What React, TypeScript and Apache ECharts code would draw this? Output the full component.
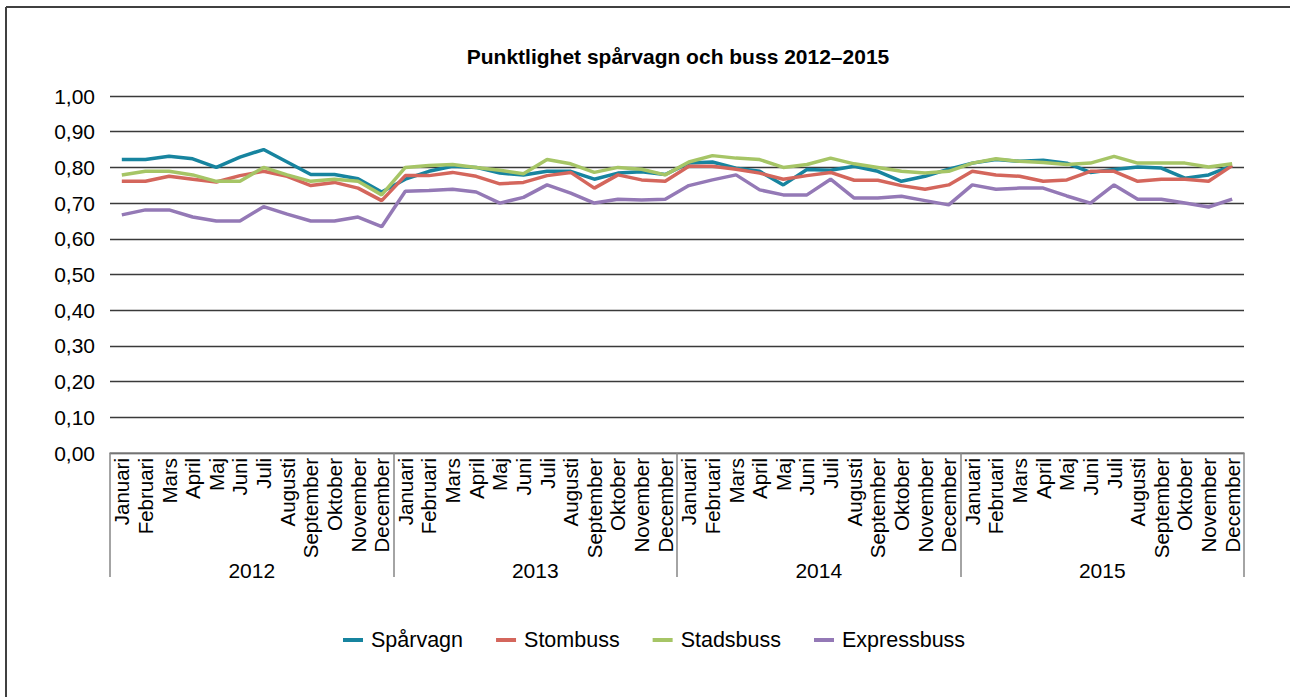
import React, { useEffect, useRef } from "react";
import * as echarts from "echarts";

const months = [
  "Januari", "Februari", "Mars", "April", "Maj", "Juni",
  "Juli", "Augusti", "September", "Oktober", "November", "December",
];
const years = ["2012", "2013", "2014", "2015"];
const yTicks = [0, 0.1, 0.2, 0.3, 0.4, 0.5, 0.6, 0.7, 0.8, 0.9, 1.0];

const seriesNames = ["Spårvagn", "Stombuss", "Stadsbuss", "Expressbuss"];

const sparvagn = [
  0.822, 0.822, 0.831, 0.824, 0.80, 0.829, 0.85, 0.815, 0.78, 0.78, 0.768, 0.731,
  0.767, 0.789, 0.803, 0.80, 0.784, 0.779, 0.789, 0.789, 0.767, 0.784, 0.788, 0.78,
  0.812, 0.815, 0.798, 0.789, 0.751, 0.794, 0.792, 0.803, 0.789, 0.761, 0.775, 0.795,
  0.812, 0.822, 0.817, 0.82, 0.812, 0.786, 0.794, 0.801, 0.798, 0.77, 0.779, 0.805,
];
const stombuss = [
  0.761, 0.761, 0.775, 0.767, 0.759, 0.777, 0.789, 0.775, 0.749, 0.758, 0.742, 0.707,
  0.777, 0.777, 0.786, 0.775, 0.754, 0.758, 0.777, 0.786, 0.742, 0.779, 0.765, 0.761,
  0.803, 0.803, 0.795, 0.784, 0.767, 0.777, 0.786, 0.764, 0.764, 0.749, 0.739, 0.751,
  0.789, 0.779, 0.775, 0.761, 0.765, 0.789, 0.789, 0.761, 0.767, 0.767, 0.761, 0.805,
];
const stadsbuss = [
  0.779, 0.789, 0.789, 0.779, 0.761, 0.761, 0.80, 0.779, 0.761, 0.767, 0.761, 0.723,
  0.80, 0.805, 0.808, 0.80, 0.792, 0.782, 0.822, 0.81, 0.786, 0.80, 0.795, 0.779,
  0.815, 0.833, 0.826, 0.822, 0.80, 0.808, 0.826, 0.81, 0.80, 0.789, 0.784, 0.789,
  0.812, 0.824, 0.817, 0.814, 0.808, 0.812, 0.831, 0.812, 0.812, 0.812, 0.801, 0.81,
];
const expressbuss = [
  0.667, 0.681, 0.681, 0.661, 0.65, 0.65, 0.69, 0.669, 0.65, 0.65, 0.661, 0.634,
  0.733, 0.735, 0.739, 0.731, 0.70, 0.716, 0.751, 0.728, 0.70, 0.711, 0.709, 0.711,
  0.749, 0.765, 0.779, 0.737, 0.723, 0.723, 0.767, 0.714, 0.714, 0.719, 0.707, 0.695,
  0.751, 0.739, 0.742, 0.742, 0.72, 0.70, 0.751, 0.711, 0.711, 0.70, 0.689, 0.711,
];

const seriesValues = [sparvagn, stombuss, stadsbuss, expressbuss];
const colors = ["#17849f", "#d4665c", "#a6c566", "#9479b6"];

const FONT = "'Liberation Sans', Arial, sans-serif";

export default function App() {
  const ref = useRef<HTMLDivElement>(null);

  useEffect(() => {
    if (!ref.current) return;
    const chart = echarts.init(ref.current, undefined, { renderer: "svg" });
    const monthCats: string[] = [];
    years.forEach(() => months.forEach((m) => monthCats.push(m)));

    chart.setOption({
      animation: false,
      color: colors,
      textStyle: { fontFamily: FONT },
      title: {
        text: "Punktlighet spårvagn och buss 2012–2015",
        left: 678,
        top: 46,
        textAlign: "center",
        padding: 0,
        textStyle: { fontFamily: FONT, fontSize: 21, fontWeight: "bold", color: "#000" },
      },
      legend: {
        data: seriesNames,
        left: 343,
        top: 629,
        padding: 0,
        icon: "rect",
        itemWidth: 20,
        itemHeight: 4,
        itemGap: 33,
        textStyle: { fontFamily: FONT, fontSize: 21.5, color: "#000", padding: [0, 0, 0, 3] },
      },
      grid: { left: 110, right: 46, top: 96, bottom: 244, containLabel: false },
      xAxis: [
        {
          type: "category",
          data: monthCats,
          boundaryGap: true,
          axisLine: { show: true, lineStyle: { color: "#868686", width: 1.5 } },
          axisTick: { show: false },
          axisLabel: {
            interval: 0,
            rotate: 90,
            margin: 5,
            fontSize: 20.5,
            color: "#000",
            fontFamily: FONT,
          },
          splitLine: { show: false },
        },
        {
          type: "category",
          data: years,
          position: "bottom",
          boundaryGap: true,
          axisLine: { show: false },
          axisTick: {
            show: true,
            interval: 0,
            length: 124,
            lineStyle: { color: "#868686", width: 1.5 },
          },
          axisLabel: { interval: 0, margin: 107, fontSize: 21, color: "#000", fontFamily: FONT },
          splitLine: { show: false },
        },
      ],
      yAxis: {
        type: "value",
        min: yTicks[0],
        max: yTicks[yTicks.length - 1],
        interval: 0.1,
        axisLine: { show: false },
        axisTick: { show: false },
        axisLabel: {
          margin: 15,
          fontSize: 21,
          color: "#000",
          fontFamily: FONT,
          formatter: (v: number) => v.toFixed(2).replace(".", ","),
        },
        splitLine: { show: true, lineStyle: { color: "#3a3a3a", width: 1.3 } },
      },
      series: seriesNames.map((name, i) => ({
        name,
        type: "line",
        xAxisIndex: 0,
        data: seriesValues[i],
        symbol: "none",
        lineStyle: { width: 3.5, color: colors[i] },
        itemStyle: { color: colors[i] },
      })),
      graphic: [
        {
          type: "line",
          shape: { x1: 6, y1: 7, x2: 1290, y2: 7 },
          style: { stroke: "#404040", lineWidth: 2 },
        },
        {
          type: "line",
          shape: { x1: 6, y1: 7, x2: 6, y2: 697 },
          style: { stroke: "#404040", lineWidth: 2 },
        },
      ],
    });
    return () => chart.dispose();
  }, []);

  return (
    <div
      ref={ref}
      style={{ position: "fixed", left: 0, top: 0, width: 1290, height: 697, background: "#fff" }}
    />
  );
}
